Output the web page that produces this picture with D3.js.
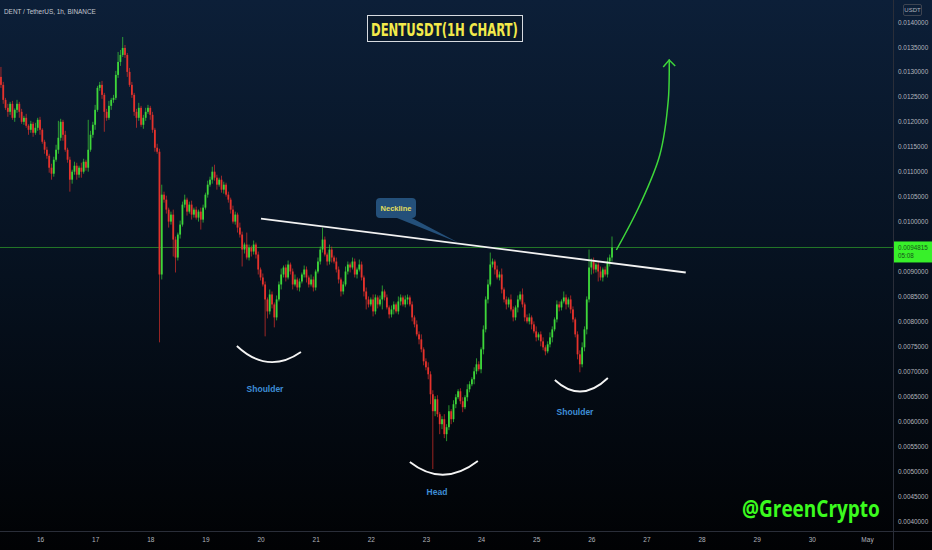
<!DOCTYPE html>
<html><head><meta charset="utf-8">
<script src="https://cdn.jsdelivr.net/npm/d3@7"></script>
<style>html,body{margin:0;padding:0;background:#000;overflow:hidden}</style>
</head><body>
<svg id="c" width="932" height="550"></svg>
<script>
// ---------------- DATA ----------------
const symbolText = "DENT / TetherUS, 1h, BINANCE";
const titleText = "DENTUSDT(1H CHART)";
const firstCandleHour = -17;          // hours relative to Apr 16 00:00 UTC
const firstOpen = 0.01290;
// hourly closes (USDT)
const closes = [
0.012740,0.012440,0.012280,0.012200,0.012360, 0.012080,0.012240,0.012360,0.012200,0.012000,
0.012080,0.011920,0.011840,0.011960,0.011780, 0.011880,0.012040,0.011840,0.011600,0.011440,
0.011320,0.011080,0.010960,0.011240,0.011440, 0.011680,0.012000,0.011740,0.011440,0.011240,
0.010840,0.011000,0.011120,0.010940,0.011080, 0.011000,0.011200,0.011080,0.011440,0.011740,
0.011940,0.012240,0.012680,0.012740,0.012540, 0.012200,0.012080,0.012320,0.012440,0.012480,
0.012940,0.013200,0.013340,0.013480,0.013340, 0.013000,0.012740,0.012540,0.012200,0.012080,
0.012280,0.011940,0.012080,0.012200,0.012280, 0.012140,0.011840,0.011480,0.011400,0.008940,
0.010540,0.010440,0.010240,0.010000,0.010140, 0.009640,0.009280,0.009740,0.009940,0.010340,
0.010440,0.010200,0.010340,0.010140,0.010240, 0.010080,0.010200,0.010040,0.010280,0.010540,
0.010740,0.010840,0.011000,0.010880,0.010740, 0.010840,0.010640,0.010740,0.010540,0.010440,
0.010240,0.010000,0.010140,0.009880,0.009740, 0.009440,0.009540,0.009280,0.009480,0.009400,
0.009540,0.009340,0.009040,0.008880,0.008740, 0.008440,0.008200,0.008540,0.008340,0.008080,
0.008440,0.008740,0.008940,0.009080,0.008880, 0.009140,0.009000,0.008740,0.008840,0.008680,
0.008800,0.008940,0.009040,0.008880,0.008740, 0.008840,0.008680,0.009000,0.009200,0.009440,
0.009640,0.009340,0.009200,0.009440,0.009280, 0.009200,0.009040,0.008840,0.008600,0.008740,
0.009000,0.009140,0.009080,0.009200,0.008940, 0.009040,0.009140,0.008880,0.008600,0.008440,
0.008340,0.008440,0.008200,0.008480,0.008340, 0.008440,0.008600,0.008480,0.008280,0.008140,
0.008240,0.008340,0.008200,0.008400,0.008480, 0.008340,0.008440,0.008480,0.008340,0.008080,
0.007940,0.007740,0.007640,0.007440,0.007200, 0.007080,0.006940,0.006540,0.006200,0.006440,
0.006140,0.005940,0.006040,0.005740,0.005880, 0.006200,0.006040,0.006340,0.006480,0.006600,
0.006400,0.006280,0.006480,0.006640,0.006740, 0.006840,0.007000,0.007140,0.007040,0.007440,
0.007840,0.008440,0.008740,0.009140,0.009200, 0.009040,0.008880,0.008940,0.008640,0.008440,
0.008340,0.008440,0.008240,0.008080,0.008280, 0.008440,0.008540,0.008340,0.008080,0.008000,
0.008080,0.007940,0.007800,0.007680,0.007740, 0.007600,0.007480,0.007400,0.007540,0.007680,
0.007840,0.008040,0.008340,0.008280,0.008400, 0.008480,0.008340,0.008440,0.008240,0.008040,
0.007740,0.007340,0.007140,0.007480,0.007840, 0.008440,0.009080,0.009200,0.009040,0.009140,
0.009000,0.008880,0.009040,0.008940,0.009200, 0.009280,0.0094815
];
// upper / lower wick lengths beyond the body, in 1e-6 USDT
const wickUp = [
200,60,40,80,40,60,30,80,40,60, 40,80,30,60,40,100,40,60,30,40,
60,40,80,60,100,340,60,40,80,40, 60,40,80,60,40,100,60,40,600,80,
60,100,40,60,80,40,60,100,40,60, 80,200,100,220,60,40,80,60,40,60,
100,40,60,80,60,40,60,40,80,60, 200,60,80,40,60,100,60,40,80,60,
100,40,60,80,40,60,40,80,60,40, 80,60,100,140,60,40,80,60,40,60,
40,80,60,40,100,60,40,240,60,40, 80,40,60,40,80,60,40,100,60,40,
80,60,120,40,60,80,40,60,100,40, 60,40,80,60,40,100,60,40,80,60,
240,60,40,100,60,40,80,60,40,60, 100,60,40,80,60,40,100,60,40,80,
60,40,100,60,40,80,120,40,60,40, 80,60,40,100,60,40,80,60,40,60,
40,80,60,100,40,60,100,60,80,60, 80,40,60,100,60,120,40,80,60,40,
60,80,40,100,60,40,80,120,60,40, 80,60,100,240,60,40,80,60,120,40,
60,40,100,60,40,80,60,120,40,60, 80,40,60,100,40,60,80,40,60,100,
60,40,80,60,40,120,60,40,80,60, 40,60,80,100,60,60,360,60,80,40,
60,100,40,60,80,60,220
];
const wickDn = [
60,80,40,100,60,40,80,60,120,40, 60,40,100,60,80,40,60,100,40,80,
60,100,120,60,40,80,60,120,40,60, 240,80,60,100,60,120,40,60,80,40,
60,100,40,60,80,400,60,40,80,60, 40,60,80,40,60,100,40,60,80,200,
60,40,80,60,40,100,60,80,40,1360, 100,60,80,120,60,340,300,60,80,40,
60,80,40,100,60,40,80,200,60,40, 60,40,80,60,100,40,60,80,40,60,
80,40,60,100,60,340,80,40,60,100, 60,80,100,60,40,740,140,60,80,200,
60,40,100,60,80,40,60,100,40,60, 80,40,60,100,60,40,80,60,40,60,
60,40,80,60,100,40,60,80,100,60, 40,60,100,40,60,80,40,60,100,200,
60,40,100,60,80,40,200,60,40,80, 60,100,40,60,80,40,60,100,40,80,
60,40,100,60,80,60,100,200,1160,100, 60,200,100,80,140,60,100,60,80,40,
60,100,40,80,60,40,100,60,40,80, 100,60,80,40,60,100,40,60,80,60,
100,60,40,80,60,100,40,60,80,40, 60,100,40,80,60,100,60,80,40,60,
100,40,60,80,60,40,100,60,80,60, 60,100,160,60,80,100,60,140,80,60,
200,60,80,40,60,100,80
];
const yTickValues = [0.0040,0.0045,0.0050,0.0055,0.0060,0.0065,0.0070,0.0075,0.0080,0.0085,
  0.0090,0.0095,0.0100,0.0105,0.0110,0.0115,0.0120,0.0125,0.0130,0.0135,0.0140];
const xTickDays = [16,17,18,19,20,21,22,23,24,25,26,27,28,29,30];
const xTickLabels = ["16","17","18","19","20","21","22","23","24","25","26","27","28","29","30","May"];
const lastPriceText = "0.0094815";
const countdownText = "05:08";
// annotations in [hours since Apr16 00:00, price]
const neckline = [[96.2, 0.01006], [281.1, 0.00898]];
const necklineTip = [182.0, 0.00958];
const leftArc  = [[85.7, 0.007507],[99.2, 0.006926],[113.6, 0.007387]];
const headArc  = [[161.0, 0.005182],[175.4, 0.004661],[190.6, 0.005202]];
const rightArc = [[224.1, 0.006826],[235.4, 0.006345],[247.2, 0.006866]];
const arrowPts = [[250.9, 0.009431],[261.1, 0.010333],[269.8, 0.011335],[273.5, 0.012437],[273.9, 0.013238]];

// ---------------- CHART ----------------
const W = 932, H = 550, axisX = 893, axisY = 531;
const BASE = Date.UTC(2021, 3, 16);
const hDate = h => new Date(BASE + h * 3600e3);
const x = d3.scaleUtc().domain([hDate(0), new Date(Date.UTC(2021, 4, 1))]).range([40, 867]);
const y = d3.scaleLinear().domain([0.004, 0.014]).range([521, 22]);
const px = p => [x(hDate(p[0])), y(p[1])];

const candles = closes.map((c, i) => {
  const o = i === 0 ? firstOpen : closes[i - 1];
  return { t: hDate(firstCandleHour + i), o, c,
    h: Math.max(o, c) + wickUp[i] * 1e-6, l: Math.min(o, c) - wickDn[i] * 1e-6 };
});

const svg = d3.select("#c");
const defs = svg.append("defs");
const gr = defs.append("linearGradient").attr("id", "bg").attr("x1", 0).attr("y1", 0).attr("x2", 0).attr("y2", 1);
gr.append("stop").attr("offset", "0%").attr("stop-color", "#0c1f38");
gr.append("stop").attr("offset", "50%").attr("stop-color", "#06111f");
gr.append("stop").attr("offset", "100%").attr("stop-color", "#010204");
svg.append("rect").attr("width", W).attr("height", H).attr("fill", "url(#bg)");

// axis separators
svg.append("line").attr("x1", axisX + 0.5).attr("x2", axisX + 0.5).attr("y1", 0).attr("y2", H)
  .attr("stroke", "#2a2e39").attr("stroke-width", 1);
svg.append("line").attr("x1", 0).attr("x2", W).attr("y1", axisY + 0.5).attr("y2", axisY + 0.5)
  .attr("stroke", "#2a2e39").attr("stroke-width", 1);

// y axis
const yAxis = d3.axisRight(y).tickValues(yTickValues).tickSize(0).tickPadding(0)
  .tickFormat(d3.format(".7f"));
const ya = svg.append("g").attr("transform", `translate(${axisX + 5},0)`).call(yAxis);
ya.select(".domain").remove();
ya.selectAll("text").attr("fill", "#b2b5be").attr("font-size", "6.4px")
  .attr("font-family", "Liberation Sans, Arial, sans-serif");

// x axis
const xVals = xTickDays.map(d => new Date(Date.UTC(2021, 3, d))).concat([new Date(Date.UTC(2021, 4, 1))]);
const xAxis = d3.axisBottom(x).tickValues(xVals).tickSize(0).tickPadding(0)
  .tickFormat((d, i) => xTickLabels[i]);
const xa = svg.append("g").attr("transform", `translate(0,${axisY + 6})`).call(xAxis);
xa.select(".domain").remove();
xa.selectAll("text").attr("fill", "#b2b5be").attr("font-size", "6.5px")
  .attr("font-family", "Liberation Sans, Arial, sans-serif");

// price line
const lastY = y(closes[closes.length - 1]);
svg.append("line").attr("x1", 0).attr("x2", axisX).attr("y1", lastY).attr("y2", lastY)
  .attr("stroke", "#2a8a2a").attr("stroke-width", 1).attr("opacity", 0.85);

// candles
const UP = "#3ed63a", DN = "#e5322c";
const cg = svg.append("g");
cg.selectAll("line").data(candles).join("line")
  .attr("x1", d => x(d.t)).attr("x2", d => x(d.t))
  .attr("y1", d => y(d.h)).attr("y2", d => y(d.l))
  .attr("stroke", d => d.c >= d.o ? UP : DN).attr("stroke-width", 0.8).attr("opacity", 0.85);
cg.selectAll("rect").data(candles).join("rect")
  .attr("x", d => x(d.t) - 0.9).attr("width", 1.8)
  .attr("y", d => y(Math.max(d.o, d.c)))
  .attr("height", d => Math.max(0.8, Math.abs(y(d.o) - y(d.c))))
  .attr("fill", d => d.c >= d.o ? UP : DN);

// neckline
const [n0, n1] = neckline.map(px);
svg.append("line").attr("x1", n0[0]).attr("y1", n0[1]).attr("x2", n1[0]).attr("y2", n1[1])
  .attr("stroke", "#f2f2f2").attr("stroke-width", 1.8);

// neckline callout
const tip = px(necklineTip);
svg.append("path").attr("d", `M392,216 L408,216 L${tip[0]},${tip[1]} Z`).attr("fill", "#24507a");
svg.append("rect").attr("x", 376).attr("y", 198).attr("width", 40).attr("height", 20).attr("rx", 4)
  .attr("fill", "#24507a");
svg.append("text").attr("x", 396).attr("y", 211).attr("text-anchor", "middle")
  .attr("font-family", "Liberation Sans, Arial, sans-serif").attr("font-size", "7.5px").attr("font-weight", "bold")
  .attr("fill", "#e3df5b").text("Neckline");

// arcs
[leftArc, headArc, rightArc].forEach(a => {
  const [p0, c, p2] = a.map(px);
  svg.append("path").attr("d", `M${p0[0]},${p0[1]} Q${c[0]},${c[1]} ${p2[0]},${p2[1]}`)
    .attr("fill", "none").attr("stroke", "#f4f4f4").attr("stroke-width", 1.8);
});
const lbl = (tx, lx, ly) => svg.append("text").attr("x", lx).attr("y", ly).attr("text-anchor", "middle")
  .attr("font-family", "Liberation Sans, Arial, sans-serif").attr("font-size", "8.5px").attr("font-weight", "bold")
  .attr("fill", "#3e8ed6").text(tx);
lbl("Shoulder", 265, 392);
lbl("Head", 437, 495);
lbl("Shoulder", 575, 415);

// green arrow
const ap = arrowPts.map(px);
svg.append("path").attr("d", d3.line().curve(d3.curveCatmullRom)(ap))
  .attr("fill", "none").attr("stroke", "#3ed63a").attr("stroke-width", 1.5);
const tipA = ap[ap.length - 1];
svg.append("path").attr("d", `M${tipA[0] - 6},${tipA[1] + 7} L${tipA[0]},${tipA[1]} L${tipA[0] + 6},${tipA[1] + 6}`)
  .attr("fill", "none").attr("stroke", "#3ed63a").attr("stroke-width", 1.5);

// helper: place text squeezed horizontally into an exact width (bbox stays exact)
function fitText(txt, x0, yb, width, attrs) {
  const t = svg.append("text").attr("x", 0).attr("y", 0).text(txt);
  Object.entries(attrs).forEach(([k, v]) => t.attr(k, v));
  const w0 = t.node().getComputedTextLength();
  t.attr("transform", `translate(${x0},${yb}) scale(${width / w0},1)`);
  return t;
}

// title
svg.append("rect").attr("x", 367.5).attr("y", 15.5).attr("width", 155).attr("height", 26)
  .attr("fill", "#0a1a2d").attr("stroke", "#d6dae0").attr("stroke-width", 1);
fitText(titleText, 371, 36, 147, {"font-family": "DejaVu Sans Condensed, DejaVu Sans, sans-serif",
  "font-weight": "bold", "font-size": "18px", "fill": "#f3ea4a"});

// header
fitText(symbolText, 4, 14, 92, {"font-family": "Liberation Sans, Arial, sans-serif",
  "font-size": "8px", "fill": "#c3c7cf"});

// USDT box
svg.append("rect").attr("x", 903.5).attr("y", 4.5).attr("width", 18).attr("height", 11).attr("rx", 1.5)
  .attr("fill", "none").attr("stroke", "#4a4e58").attr("stroke-width", 0.8);
svg.append("text").attr("x", 912.5).attr("y", 12.3).attr("text-anchor", "middle")
  .attr("font-family", "Liberation Sans, Arial, sans-serif").attr("font-size", "6px")
  .attr("fill", "#b2b5be").text("USDT");

// last price label
svg.append("rect").attr("x", axisX + 1).attr("y", lastY - 6).attr("width", W - axisX - 1).attr("height", 21)
  .attr("fill", "#38f02a");
svg.append("text").attr("x", axisX + 5).attr("y", lastY + 2.2)
  .attr("font-family", "Liberation Sans, Arial, sans-serif").attr("font-size", "6.3px")
  .attr("fill", "#17521a").text(lastPriceText);
svg.append("text").attr("x", axisX + 5).attr("y", lastY + 11)
  .attr("font-family", "Liberation Sans, Arial, sans-serif").attr("font-size", "6.3px")
  .attr("fill", "#17521a").text(countdownText);

// watermark
fitText("@GreenCrypto", 742, 517, 138, {"font-family": "Open Sans, Noto Sans, sans-serif",
  "font-weight": "bold", "font-size": "23px", "fill": "#3bfb1e"});
</script>
</body></html>
